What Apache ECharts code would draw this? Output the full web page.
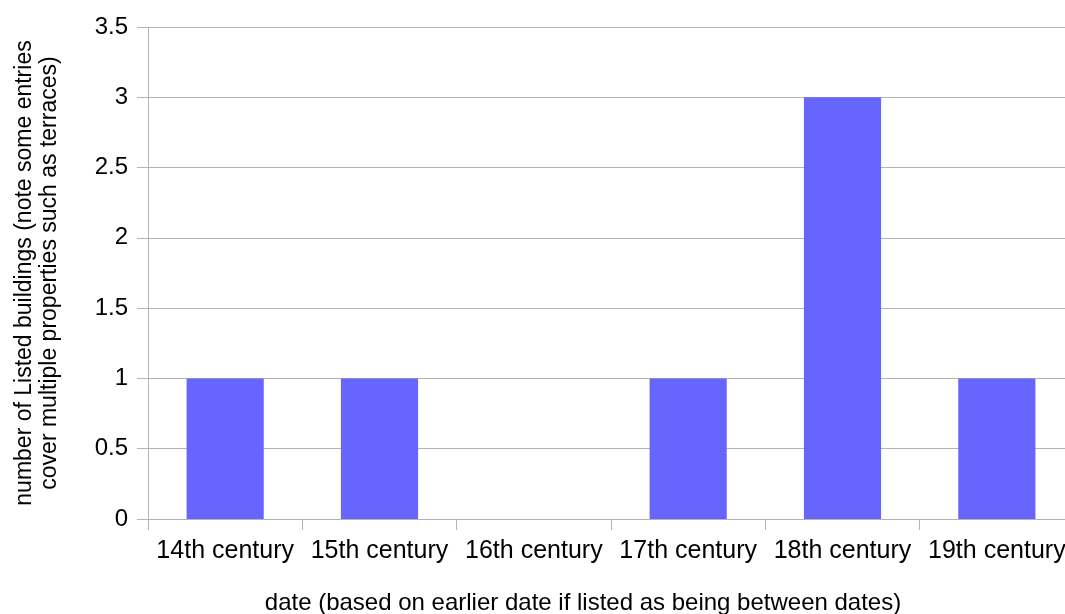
<!DOCTYPE html>
<html><head><meta charset="utf-8">
<script src="https://cdn.jsdelivr.net/npm/echarts@6/dist/echarts.min.js"></script>
<style>html,body{margin:0;padding:0;background:#fff}#c{width:1065px;height:614px}</style>
</head><body><div id="c"></div>
<script>
const categories = ['14th century','15th century','16th century','17th century','18th century','19th century'];
const values = [1, 1, 0, 1, 3, 1];
const yTicks = { min: 0, max: 3.5, interval: 0.5 };
const xTitle = 'date (based on earlier date if listed as being between dates)';
const yTitle = 'number of Listed buildings (note some entries\ncover multiple properties such as terraces)';

const chart = echarts.init(document.getElementById('c'), null, {renderer:'canvas'});
const font = 'Liberation Sans';
chart.setOption({
  animation: false,
  grid: { left: 148, top: 27, right: -9, bottom: 95, containLabel: false, outerBoundsMode: 'none' },
  graphic: [{
    type: 'text', x: 583, y: 603, silent: true,
    style: { text: xTitle, fontFamily: font, fontSize: 24, fill: '#000',
             align: 'center', verticalAlign: 'middle' }
  }],
  xAxis: {
    type: 'category', data: categories,
    axisLine: { lineStyle: { color: '#b3b3b3' } },
    axisTick: { show: true, length: 11, lineStyle: { color: '#b3b3b3' } },
    axisLabel: { fontFamily: font, fontSize: 25, color: '#000', margin: 20, interval: 0 },
    splitLine: { show: false }
  },
  yAxis: {
    type: 'value', min: yTicks.min, max: yTicks.max, interval: yTicks.interval,
    name: yTitle, nameLocation: 'middle', nameGap: 86, nameRotate: 90,
    nameTextStyle: { fontFamily: font, fontSize: 23, color: '#000', lineHeight: 25 },
    axisLine: { show: true, lineStyle: { color: '#b3b3b3' } },
    axisTick: { show: true, length: 11, lineStyle: { color: '#b3b3b3' } },
    axisLabel: { fontFamily: font, fontSize: 24, color: '#000', margin: 20 },
    splitLine: { lineStyle: { color: '#b3b3b3' } }
  },
  series: [{
    type: 'bar', data: values, barWidth: '50%',
    itemStyle: { color: '#6666ff' }
  }]
});
</script></body></html>
